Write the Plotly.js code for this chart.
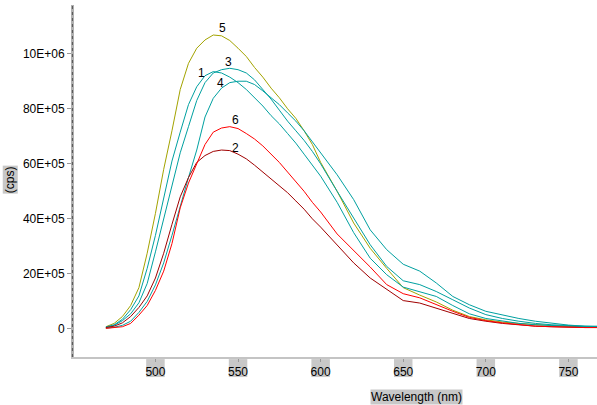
<!DOCTYPE html>
<html>
<head>
<meta charset="utf-8">
<script src="https://cdn.plot.ly/plotly-3.0.1.min.js"></script>
<style>
  html, body { margin: 0; padding: 0; background: #fff; }
  #chart { width: 597px; height: 405px; }
</style>
</head>
<body>
<div id="chart"></div>
<script>

// wavelength (nm)
var wl = [470,475,480,485,490,495,500,505,510,515,520,525,530,535,540,545,550,555,560,565,570,575,580,585,590,595,600,
          610,620,630,640,650,660,670,680,690,700,710,720,730,740,750,760,770];

// intensities, in units of 1E+06 cps
var s1 = [0.07,0.15,0.35,0.7,1.2,2.2,3.4,4.8,6.1,7.15,8.15,8.8,9.2,9.35,9.3,9.15,8.95,8.7,8.4,8.1,7.75,7.45,7.1,6.75,6.35,5.95,5.55,
          4.6,3.5,2.57,1.97,1.52,1.36,1.18,0.85,0.55,0.38,0.28,0.2,0.15,0.12,0.1,0.08,0.08];
var s2 = [0.05,0.1,0.22,0.45,0.78,1.2,1.85,2.75,3.8,4.8,5.5,6.05,6.3,6.45,6.5,6.48,6.35,6.18,5.95,5.7,5.45,5.2,4.95,4.65,4.35,4.0,3.7,
          3.05,2.4,1.85,1.43,1.03,0.94,0.76,0.56,0.38,0.28,0.2,0.15,0.1,0.08,0.06,0.05,0.05];
var s3 = [0.06,0.13,0.3,0.55,0.95,1.65,2.8,4.0,5.3,6.4,7.35,8.3,8.95,9.3,9.42,9.47,9.42,9.3,9.05,8.7,8.35,7.95,7.55,7.2,6.85,6.45,6.0,
          5.0,4.05,3.06,2.27,1.75,1.61,1.36,1.06,0.76,0.52,0.38,0.28,0.2,0.15,0.12,0.1,0.1];
var s4 = [0.03,0.06,0.13,0.28,0.6,1.0,1.6,2.4,3.4,4.5,5.5,6.5,7.7,8.38,8.75,8.95,9.0,9.0,8.88,8.65,8.4,8.15,7.85,7.55,7.2,6.8,6.4,
          5.6,4.7,3.6,2.88,2.35,2.1,1.67,1.18,0.88,0.64,0.5,0.38,0.28,0.2,0.14,0.1,0.08];
var s5 = [0.08,0.2,0.45,0.85,1.5,2.75,4.2,5.8,7.2,8.7,9.65,10.2,10.5,10.68,10.65,10.48,10.2,9.9,9.5,9.15,8.75,8.4,8.0,7.65,7.2,6.7,6.05,
          5.0,3.85,2.93,2.2,1.5,1.23,0.98,0.68,0.45,0.33,0.25,0.2,0.15,0.12,0.1,0.08,0.07];
var s6 = [0.02,0.04,0.08,0.2,0.5,0.85,1.4,2.1,3.1,4.4,5.3,6.0,6.7,7.15,7.3,7.35,7.28,7.1,6.9,6.65,6.35,6.05,5.7,5.35,5.0,4.6,4.25,
          3.45,2.85,2.25,1.61,1.28,1.13,0.88,0.64,0.42,0.3,0.22,0.16,0.1,0.08,0.06,0.05,0.05];

// curve labels
var labelText = ['1','2','3','4','5','6'];
var labelX    = [527.8,548.7,544.1,539.5,540.7,548.7];
var labelY    = [9.31,6.59,9.71,8.93,10.93,7.6];

// axis ticks
var xTicks = [500,550,600,650,700,750];
var yTicks = [0,2,4,6,8,10];
var yTickText = ['0','20E+05','40E+05','60E+05','80E+05','10E+06'];

var olive = '#a3a300', teal = '#00a0a0', red = '#ff0000', maroon = '#a00000';

function line(y, color) {
  return {x: wl, y: y, type: 'scatter', mode: 'lines',
          line: {color: color, width: 1}, hoverinfo: 'skip'};
}

// red drawn last, it sits on top in the original
var data = [line(s5, olive), line(s1, teal), line(s3, teal), line(s4, teal), line(s2, maroon), line(s6, red)];

var font = {family: 'Liberation Sans, Arial, sans-serif', size: 12, color: '#000'};
var boxGray = '#c8c8c8';

var annotations = labelText.map(function (t, i) {
  return {x: labelX[i], y: labelY[i], xref: 'x', yref: 'y', text: t,
          showarrow: false, font: font};
});
annotations.push({text: 'Wavelength (nm)', xref: 'paper', yref: 'paper', x: 0.654, y: -0.113,
                  xanchor: 'center', yanchor: 'middle', showarrow: false, font: font,
                  bgcolor: boxGray, borderpad: 0});
annotations.push({text: '(cps)', xref: 'paper', yref: 'paper', x: -0.122, y: 0.503,
                  xanchor: 'center', yanchor: 'middle', textangle: -90, showarrow: false,
                  font: font, bgcolor: boxGray, borderpad: 0});

// grey boxes under the x tick labels
var shapes = xTicks.map(function (v) {
  return {type: 'rect', xref: 'x', yref: 'paper', layer: 'below',
          x0: v - 5.6, x1: v + 5.6, y0: -0.057, y1: -0.006,
          fillcolor: boxGray, line: {width: 0}};
});
// dotted core of the y axis line
shapes.push({type: 'line', xref: 'paper', yref: 'paper', x0: -0.003, x1: -0.003, y0: 0, y1: 1,
             line: {color: '#555', width: 1, dash: 'dot'}});

var layout = {
  width: 597, height: 405,
  margin: {l: 74, r: 0, t: 5, b: 48},
  paper_bgcolor: '#fff', plot_bgcolor: '#fff',
  showlegend: false,
  font: font,
  xaxis: {range: [450.7, 767.3], tickvals: xTicks, showgrid: false, zeroline: false,
          showline: true, linecolor: '#c4c4c4', linewidth: 2,
          ticks: 'outside', ticklen: 3, tickcolor: '#999', tickfont: font},
  yaxis: {range: [-1.02, 11.77], tickvals: yTicks, ticktext: yTickText,
          showgrid: false, zeroline: false,
          showline: true, linecolor: '#b0b0b0', linewidth: 3,
          ticks: 'outside', ticklen: 4, tickcolor: '#999', tickfont: font},
  annotations: annotations,
  shapes: shapes
};

Plotly.newPlot('chart', data, layout, {staticPlot: true});
</script>
</body>
</html>
